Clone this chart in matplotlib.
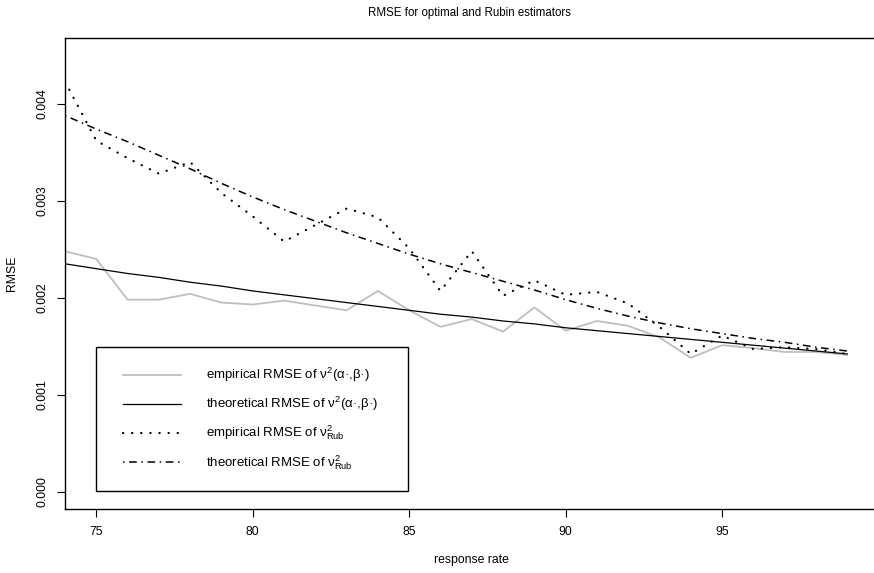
import numpy as np
import matplotlib
matplotlib.use("Agg")
import matplotlib.pyplot as plt
from matplotlib.lines import Line2D
from matplotlib.patches import Rectangle

plt.rcParams['font.family'] = ['Liberation Sans', 'DejaVu Sans']
plt.rcParams['mathtext.fontset'] = 'custom'
plt.rcParams['mathtext.rm'] = 'Liberation Sans'
plt.rcParams['mathtext.it'] = 'Liberation Sans'
plt.rcParams['mathtext.bf'] = 'Liberation Sans:bold'

# taxa de resposta
taxa = list(range(74, 100))

# RMSE empirico de v2(alpha, beta)
emp_opt = [0.00248, 0.00240, 0.00198, 0.00198, 0.00204, 0.00195, 0.00193, 0.00197,
           0.00192, 0.00187, 0.00207, 0.00187, 0.00170, 0.00178, 0.00165, 0.00190,
           0.00166, 0.00176, 0.00171, 0.00159, 0.00138, 0.00151, 0.00148, 0.00144,
           0.00144, 0.00141]

# RMSE teorico de v2(alpha, beta)
teo_opt = [0.00235, 0.00230, 0.00225, 0.00221, 0.00216, 0.00212, 0.00207, 0.00203,
           0.00199, 0.00195, 0.00191, 0.00187, 0.00183, 0.00180, 0.00176, 0.00173,
           0.00169, 0.00166, 0.00163, 0.00160, 0.00157, 0.00154, 0.00151, 0.00148,
           0.00145, 0.00142]

# RMSE empirico de v2_Rub
emp_rub = [0.00423, 0.00362, 0.00344, 0.00328, 0.00340, 0.00308, 0.00284, 0.00258,
           0.00275, 0.00292, 0.00283, 0.00251, 0.00207, 0.00248, 0.00202, 0.00218,
           0.00203, 0.00206, 0.00194, 0.00170, 0.00142, 0.00161, 0.00147, 0.00149,
           0.00147, 0.00142]

# RMSE teorico de v2_Rub
teo_rub = [0.00388, 0.00374, 0.00361, 0.00347, 0.00333, 0.00318, 0.00304, 0.00291,
           0.00279, 0.00267, 0.00256, 0.00245, 0.00235, 0.00226, 0.00217, 0.00208,
           0.00198, 0.00189, 0.00181, 0.00174, 0.00168, 0.00163, 0.00158, 0.00154,
           0.00149, 0.00145]

rotulos = [r'empirical RMSE of $\nu^2$(α·,β·)',
           r'theoretical RMSE of $\nu^2$(α·,β·)',
           r'empirical RMSE of $\nu^2_{\mathrm{Rub}}$',
           r'theoretical RMSE of $\nu^2_{\mathrm{Rub}}$']

W, H = 874, 573
fs = 8.8      # eixos
fs_tit = 8.3  # titulo
fs_leg = 9.5  # legenda

# estilos das quatro curvas
estilos = [dict(color='#bebebe', lw=1.3, linestyle='-'),
           dict(color='black', lw=0.9, linestyle='-'),
           dict(color='black', lw=1.6, linestyle=(0, (0.1, 4.0)), dash_capstyle='round'),
           dict(color='black', lw=1.1, linestyle=(0, (1, 3, 5, 3)))]

fig = plt.figure(figsize=(W / 100, H / 100), dpi=100)
# eixo vai um pouco alem da borda direita (imagem cortada)
ax = fig.add_axes([65 / W, 64 / H, 813.5 / W, 471 / H])

for serie, est in zip([emp_opt, teo_opt, emp_rub, teo_rub], estilos):
    ax.plot(taxa, serie, **est)

ax.set_xlim(74, 100)
ax.set_ylim(-0.00018, 0.00468)
ax.set_xticks([75, 80, 85, 90, 95])
ax.set_yticks([0.000, 0.001, 0.002, 0.003, 0.004])
ax.set_yticklabels(['0.000', '0.001', '0.002', '0.003', '0.004'], rotation=90, va='center')
ax.tick_params(direction='out', length=5.5, width=0.8, labelsize=fs, pad=6.5)
for s in ax.spines.values():
    s.set_linewidth(1.0)

ax.set_xlabel('response rate', fontsize=fs, labelpad=12)
ax.set_ylabel('RMSE', fontsize=fs, labelpad=13)
fig.text(469 / W, 1 - 13 / H, 'RMSE for optimal and Rubin estimators',
         ha='center', va='center', fontsize=fs_tit)

# legenda desenhada a mao, no estilo do R
def px(x, y):
    return x / W, 1 - y / H

x0, y0 = px(96, 491)
x1, y1 = px(408, 347)
fig.add_artist(Rectangle((x0, y0), x1 - x0, y1 - y0, transform=fig.transFigure,
                         facecolor='white', edgecolor='black', lw=1.0, zorder=5))
linhas_y = [375, 404, 433, 462]
for yy, est, rot in zip(linhas_y, estilos, rotulos):
    xa, ya = px(123, yy)
    xb, _ = px(181, yy)
    fig.add_artist(Line2D([xa, xb], [ya, ya], transform=fig.transFigure, zorder=6, **est))
    xt, yt = px(206, yy + 4)
    fig.text(xt, yt, rot, ha='left', va='baseline', fontsize=fs_leg, zorder=6)

fig.savefig('out.png', dpi=100)
